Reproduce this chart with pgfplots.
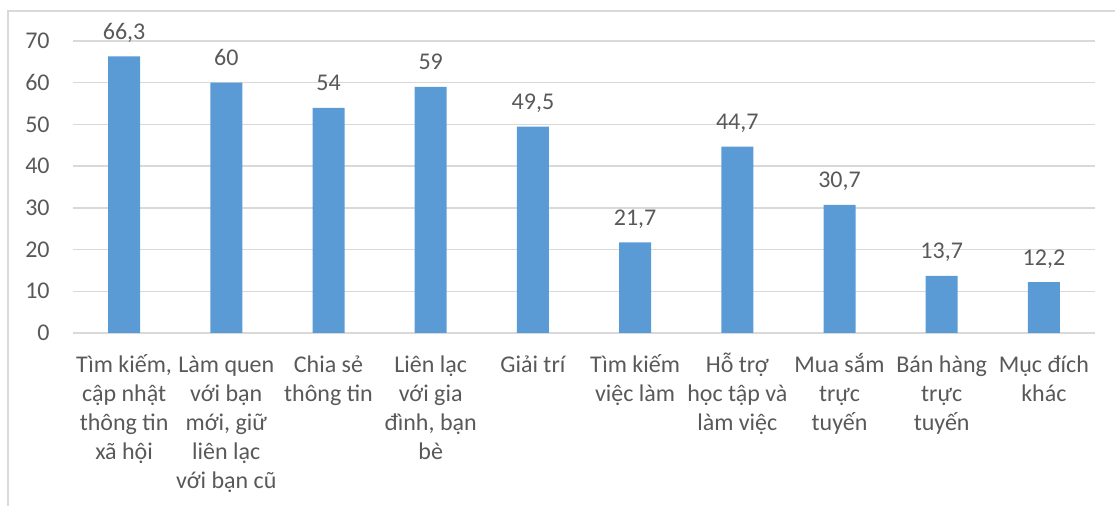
\documentclass[border=0pt]{standalone}
\usepackage{pgfplots}
\pgfplotsset{compat=1.18}
\usepackage{fontspec}
\setmainfont{Carlito}
\definecolor{barblue}{HTML}{5B9BD5}
\definecolor{gridgray}{HTML}{D9D9D9}
\definecolor{txtgray}{HTML}{595959}
\newcommand\St{\rule{0pt}{12pt}}
\begin{document}
\begin{tikzpicture}
\useasboundingbox (0,0) rectangle (557.5pt,-253pt);
\draw[gridgray, line width=0.75pt] (4pt,-253pt) -- (4pt,-5.5pt) -- (557.5pt,-5.5pt);
\begin{axis}[
  at={(36.5pt,-166.5pt)}, anchor=south west,
  scale only axis, width=511pt, height=146pt,
  xmin=-0.5, xmax=9.5, ymin=0, ymax=70,
  ytick={0,10,...,70},
  xtick={0,...,9},
  xticklabels={{\St Tìm kiếm,\\cập nhật\\thông tin\\xã hội},
    {\St Làm quen\\với bạn\\mới, giữ\\liên lạc\\với bạn cũ},
    {\St Chia sẻ\\thông tin},
    {\St Liên lạc\\với gia\\đình, bạn\\bè},
    {\St Giải trí},
    {\St Tìm kiếm\\việc làm},
    {\St Hỗ trợ\\học tập và\\làm việc},
    {\St Mua sắm\\trực\\tuyến},
    {\St Bán hàng\\trực\\tuyến},
    {\St Mục đích\\khác}},
  axis line style={draw=none},
  axis x line*=bottom,
  major tick length=0pt,
  ymajorgrids, grid style={gridgray, line width=0.75pt},
  extra y ticks={0}, extra y tick labels={},
  extra y tick style={grid style={gridgray, line width=1pt}},
  /pgf/number format/assume math mode=true,
  /pgf/number format/use comma,
  tick label style={font=\fontsize{12}{14.5}\selectfont, text=txtgray},
  yticklabel style={inner sep=0pt, xshift=-11.5pt},
  xticklabel style={align=center, anchor=north, inner sep=0pt, yshift=-7.5pt},
  ybar, bar width=16pt,
  nodes near coords,
  every node near coord/.append style={font=\fontsize{12}{14.5}\selectfont, text=txtgray, anchor=base, inner sep=0pt, yshift=8.5pt},
]
\addplot[fill=barblue, draw=none] coordinates {
  (0,66.3) (1,60) (2,54) (3,59) (4,49.5) (5,21.7) (6,44.7) (7,30.7) (8,13.7) (9,12.2)};
\end{axis}
\end{tikzpicture}
\end{document}
